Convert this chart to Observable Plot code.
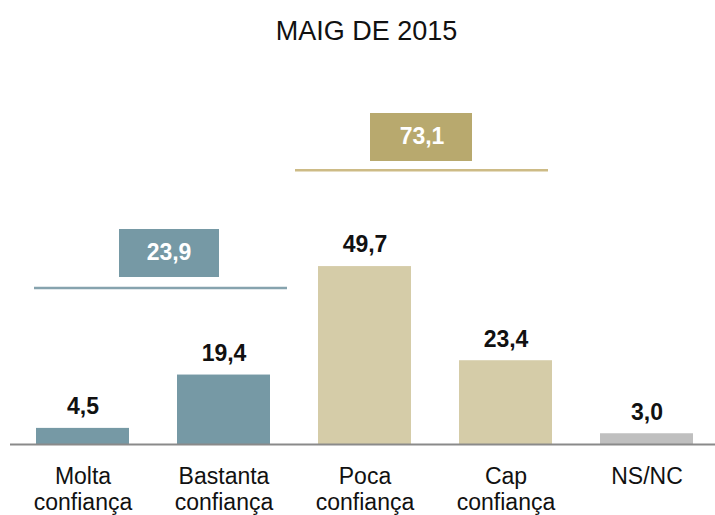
<!DOCTYPE html>
<html>
<head>
<meta charset="utf-8">
<script src="https://cdn.jsdelivr.net/npm/d3@7"></script>
<script src="https://cdn.jsdelivr.net/npm/@observablehq/plot@0.6"></script>
<style>
  html, body { margin: 0; padding: 0; background: #fff; }
  #wrap { width: 715px; height: 515px; overflow: hidden; font-family: "Liberation Sans", Arial, sans-serif; }
  #title { height: 45px; padding-top: 15px; padding-left: 18px; box-sizing: content-box; text-align: center; font-size: 27px; line-height: 32px; color: #111; }
</style>
</head>
<body>
<div id="wrap">
  <div id="title">MAIG DE 2015</div>
  <div id="chart"></div>
</div>
<script>
// ---- data ----
const categories = ["Molta\nconfiança", "Bastanta\nconfiança", "Poca\nconfiança", "Cap\nconfiança", "NS/NC"];
const values = [4.5, 19.4, 49.7, 23.4, 3.0];
const categoryGroup = ["conf", "conf", "desc", "desc", "nsnc"];
const groupKeys = ["conf", "desc"];
const groupTotals = [23.9, 73.1];
const groupFirst = ["Molta\nconfiança", "Poca\nconfiança"];
const groupLast = ["Bastanta\nconfiança", "Cap\nconfiança"];

// ---- styles / layout (not data) ----
const barColors = {conf: "#7699a5", desc: "#d5cca8", nsnc: "#bfbfbf"};
const groupLayout = {
  conf: {box: "#7699a5", line: "#86a3ae", lineY: 43.7, boxY: 53.5, lineInsetL: -2, lineInsetR: -17, boxInsetL: 83, boxInsetR: 51, textDx: -55},
  desc: {box: "#b8a96e", line: "#cdbb86", lineY: 76.6, boxY: 85.9, lineInsetL: -23, lineInsetR: 4, boxInsetL: 52, boxInsetR: 80, textDx: 57}
};

const fmt = v => d3.format(".1f")(v).replace(".", ",");

const bars = categories.map((c, i) => ({cat: c, value: values[i], group: categoryGroup[i]}));
const groups = groupKeys.map((g, i) => ({key: g, total: groupTotals[i], first: groupFirst[i], last: groupLast[i]}));

const groupMarks = groups.flatMap(g => {
  const L = groupLayout[g.key];
  return [
    Plot.ruleY([g], {x1: "first", x2: "last", y: () => L.lineY, stroke: L.line, strokeWidth: 2.5,
      insetLeft: L.lineInsetL, insetRight: L.lineInsetR}),
    Plot.ruleY([g], {x1: "first", x2: "last", y: () => L.boxY, stroke: L.box, strokeWidth: 48,
      insetLeft: L.boxInsetL, insetRight: L.boxInsetR}),
    Plot.text([g], {x: g.key === "conf" ? "last" : "first", y: () => L.boxY, text: d => fmt(d.total),
      dx: L.textDx, fill: "white", fontWeight: "bold", fontSize: 23})
  ];
});

const chart = Plot.plot({
  width: 715,
  height: 455,
  marginLeft: 34,
  marginRight: 19,
  marginTop: 26,
  marginBottom: 71,
  style: {fontFamily: "'Liberation Sans', Arial, sans-serif", background: "white", overflow: "visible"},
  x: {domain: categories, paddingInner: 0.338, paddingOuter: 0, axis: null},
  y: {domain: [0, 100], axis: null},
  marks: [
    Plot.barY(bars, {x: "cat", y: "value", fill: d => barColors[d.group]}),
    Plot.ruleY([0], {stroke: "#8a8a8a", strokeWidth: 2, insetLeft: -24, insetRight: -19}),
    Plot.text(bars, {x: "cat", y: "value", text: d => fmt(d.value), dy: -21.5,
      fontWeight: "bold", fontSize: 23, fill: "#111"}),
    Plot.text(bars, {x: "cat", text: "cat", frameAnchor: "bottom", lineAnchor: "top", dy: 21.5,
      fontSize: 23, lineHeight: 1.13, fill: "#111"}),
    ...groupMarks
  ]
});
document.getElementById("chart").appendChild(chart);
</script>
</body>
</html>
